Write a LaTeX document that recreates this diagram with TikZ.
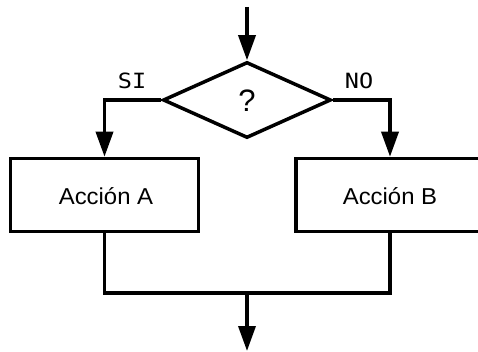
\documentclass[tikz,border=0pt]{standalone}
\usepackage{fontspec}
\setmainfont{Liberation Sans}
\newfontfamily\labelfont{DejaVu Sans Mono}
\usetikzlibrary{shapes.geometric,arrows.meta}
\begin{document}
\begin{tikzpicture}[x=1pt,y=-1pt,
  flow/.style={line width=3.5pt,-{Triangle[length=25pt,width=17pt]}},
  wire/.style={line width=3.5pt},
  actbox/.style={draw,line width=3.5pt,rectangle,minimum width=188pt,minimum height=73pt,
    inner sep=0pt},
  acttext/.style={font=\fontsize{23}{27}\selectfont,xscale=1.04},
  decision/.style={draw,line width=3.5pt,diamond,aspect=2.2,minimum width=168pt,
    minimum height=76pt,inner sep=0pt},
  qmark/.style={font=\fontsize{31}{35}\selectfont},
  branchlabel/.style={font=\labelfont\fontsize{21}{24}\selectfont,xscale=1.12}
]
\useasboundingbox (0,0) rectangle (478,352);

% decision and the two actions
\node[decision] (d) at (247,100) {};
\node[qmark] (q) at (247,101) {?};
\node[actbox] (a) at (104.5,195) {};
\node[acttext] (ta) at (106,196) {Acción A};
\node[actbox] (b) at (390,195) {};
\node[acttext] (tb) at (390,196) {Acción B};

% entry, branches and exit
\coordinate (entry) at (247,7);
\coordinate (join) at (247,293);
\coordinate (exit) at (247,351);

\draw[flow] (entry) -- (d.north);
\draw[flow] (d.west) -| (a.north);
\draw[flow] (d.east) -| (b.north);
\draw[wire] (a.south) |- (join) -| (b.south);
\draw[flow] (join) -- (exit);

% branch labels
\node[branchlabel] (si) at (132,81) {SI};
\node[branchlabel] (no) at (359,81) {NO};
\end{tikzpicture}
\end{document}
